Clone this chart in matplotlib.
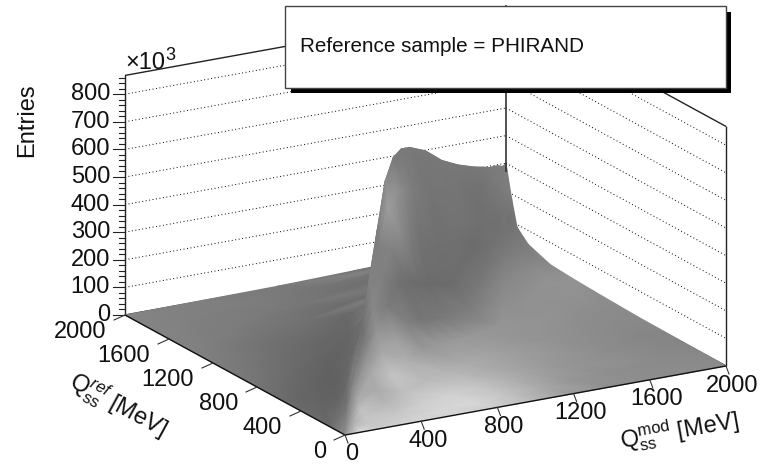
import numpy as np
import matplotlib
matplotlib.use("Agg")
import matplotlib.pyplot as plt
from matplotlib.patches import Rectangle

plt.rcParams['font.family'] = ['Liberation Sans', 'DejaVu Sans']
plt.rcParams['mathtext.fontset'] = 'custom'
plt.rcParams['mathtext.rm'] = 'Liberation Sans'
plt.rcParams['mathtext.it'] = 'Liberation Sans:italic'

# Heights (x10^3 entries). The surface looks mirror symmetric around
# the diagonal, so rows run along the diagonal (MeV) and columns go out to the square's edge.
diagonal_pos = [0, 50, 100, 200, 300, 400, 500, 600, 700, 800, 1000, 1200, 1400, 1600, 1700, 1800, 1900, 1950, 1975, 2000]
edge_frac = [0, 0.015, 0.04, 0.08, 0.15, 0.25, 0.4, 0.6, 0.8, 1.0]
entries = [
    [0, 0, 0, 0, 0, 0, 0, 0, 0, 0],
    [60, 59, 56, 50, 40, 28, 16, 7, 2, 0],
    [145, 141, 130, 113, 87, 61, 35, 15, 4, 0],
    [310, 295, 264, 217, 155, 102, 56, 25, 8, 0],
    [460, 423, 359, 285, 193, 124, 64, 28, 9, 0],
    [605, 545, 436, 333, 224, 139, 73, 30, 9, 0],
    [750, 652, 510, 375, 240, 150, 75, 30, 9, 0],
    [800, 680, 520, 360, 224, 136, 72, 28, 8, 0],
    [797, 650, 470, 318, 192, 118, 61, 23, 7, 0],
    [768, 614, 422, 276, 161, 100, 50, 19, 6, 0],
    [687, 536, 343, 206, 124, 76, 34, 14, 4, 0],
    [584, 467, 321, 204, 128, 76, 35, 15, 6, 2],
    [499, 414, 299, 210, 130, 75, 40, 20, 10, 4],
    [423, 368, 296, 233, 152, 93, 63, 38, 21, 10],
    [388, 345, 290, 232, 160, 105, 70, 46, 26, 14],
    [353, 325, 282, 229, 166, 116, 80, 52, 32, 20],
    [325, 309, 286, 260, 215, 169, 125, 92, 68, 50],
    [305, 296, 284, 265, 238, 201, 159, 128, 104, 90],
    [300, 296, 290, 280, 265, 248, 228, 212, 198, 185],
    [297, 297, 297, 297, 297, 297, 297, 297, 297, 297],
]

z_ticks = [0, 100, 200, 300, 400, 500, 600, 700, 800]
xy_ticks = [0, 400, 800, 1200, 1600, 2000]
z_top = 868

# Grey level of the lit surface as seen in the picture, by pixel position
grey_cols = [120, 180, 240, 300, 330, 345, 360, 375, 390, 420, 450, 480, 510, 540, 570, 600, 630, 660, 690, 730]
grey_rows = [160, 190, 220, 250, 280, 310, 340, 370, 400, 430]
grey_map = [
    [.50, .50, .50, .50, .50, .50, .50, .48, .48, .47, .47, .48, .50, .50, .50, .50, .50, .50, .50, .50],
    [.50, .50, .50, .50, .50, .50, .50, .50, .60, .45, .46, .44, .50, .50, .50, .50, .50, .50, .50, .50],
    [.50, .50, .50, .50, .50, .50, .48, .45, .68, .46, .46, .44, .44, .50, .50, .50, .50, .50, .50, .50],
    [.50, .50, .50, .48, .47, .46, .45, .50, .50, .44, .43, .42, .48, .50, .52, .52, .52, .52, .52, .52],
    [.50, .50, .50, .47, .46, .45, .44, .55, .45, .42, .42, .46, .55, .57, .58, .56, .55, .55, .55, .55],
    [.52, .50, .50, .47, .44, .42, .40, .55, .47, .42, .44, .52, .58, .57, .56, .55, .54, .54, .54, .54],
    [.52, .52, .47, .42, .40, .39, .42, .58, .65, .55, .60, .62, .60, .58, .55, .55, .53, .52, .52, .52],
    [.52, .52, .48, .41, .38, .38, .60, .68, .78, .68, .70, .68, .65, .62, .58, .56, .55, .55, .55, .55],
    [.52, .52, .48, .40, .38, .40, .72, .65, .72, .80, .85, .85, .78, .70, .60, .56, .55, .55, .55, .55],
    [.52, .52, .48, .45, .42, .55, .85, .80, .82, .85, .85, .80, .75, .65, .60, .56, .55, .55, .55, .55],
]


def project(x, y, z):
    """
    Parallel projection of the ROOT style box into figure pixels
    :return: pixel x, pixel y
    """
    x = np.asarray(x, dtype=float) / 2000
    y = np.asarray(y, dtype=float) / 2000
    z = np.asarray(z, dtype=float)
    return 345 + 381 * x - 220 * y, 435 - 69 * x - 120 * y - 0.276 * z


def build_mesh():
    # mirror the columns so the mesh covers both sides of the diagonal
    f = np.array(edge_frac)
    f = np.concatenate((-f[:0:-1], f))
    s = np.array(diagonal_pos, dtype=float)
    half = np.array(entries, dtype=float)
    z = np.hstack((half[:, :0:-1], half))
    ss, ff = np.meshgrid(s, f, indexing='ij')
    d = ff * 2 * np.minimum(ss, 2000 - ss)
    return ss + d / 2, ss - d / 2, z


def vertex_grey(px, py):
    # look the grey level up in the table for every mesh vertex
    by_row = np.array([np.interp(px, grey_cols, row) for row in grey_map])
    out = np.empty_like(px)
    for k in range(len(px)):
        out[k] = np.interp(py[k], grey_rows, by_row[:, k])
    return out


def draw_surface(ax):
    x, y, z = build_mesh()
    nrow, ncol = x.shape
    idx = np.arange(nrow * ncol).reshape(nrow, ncol)
    # painter's order: far rows first, inside a row the side away from the viewer first
    tris = []
    for i in range(nrow - 2, -1, -1):
        for j in range(ncol - 1):
            tris.append([idx[i, j], idx[i + 1, j], idx[i + 1, j + 1]])
            tris.append([idx[i, j], idx[i + 1, j + 1], idx[i, j + 1]])
    px, py = project(x.ravel(), y.ravel(), z.ravel())
    ax.tripcolor(px, py, np.array(tris), vertex_grey(px, py), shading='gouraud',
                 cmap='gray', vmin=0, vmax=1, zorder=3)


def draw_frame(ax):
    dots = dict(color='black', lw=0.7, ls=(0, (1, 2.6)), zorder=1)
    for val in z_ticks[1:]:
        ax.plot(*project([0, 2000], [2000, 2000], [val, val]), **dots)
        ax.plot(*project([2000, 2000], [2000, 0], [val, val]), **dots)

    solid = dict(color='#222222', lw=1.0, zorder=2, solid_capstyle='butt', solid_joinstyle='bevel')
    ax.plot(*project([0, 0], [2000, 2000], [0, z_top]), **solid)
    ax.plot(*project([2000, 2000], [0, 0], [0, z_top]), **solid)
    ax.plot(*project([2000, 2000], [2000, 2000], [272, z_top]), color='#333333', lw=1.2, zorder=4)
    ax.plot(*project([0, 2000, 2000], [2000, 2000, 0], [z_top, z_top, z_top]), **solid)
    ax.plot(*project([0, 2000], [2000, 2000], [0, 0]), **solid)
    ax.plot(*project([2000, 2000], [2000, 0], [0, 0]), **solid)

    # floor edges and ticks on top of the surface
    front = dict(color='#111111', lw=1.0, zorder=4, solid_capstyle='butt')
    ax.plot(*project([0, 2000], [0, 0], [0, 0]), **front)
    ax.plot(*project([0, 0], [0, 2000], [0, 0]), **front)
    text = dict(fontsize=17, color='#111111', zorder=6)
    for val in xy_ticks:
        px, py = project(val, 0, 0)
        ax.plot([px, px + 3], [py, py + 8], color='#333333', lw=0.8, zorder=4)
        ax.text(px + 6.5, py + 19.5, str(val), ha='center', va='center', **text)
        px, py = project(0, val, 0)
        ax.plot([px, px - 11], [py, py + 5], color='#333333', lw=0.8, zorder=4)
        ax.text(px - 19, py + 17, str(val), ha='right', va='center', **text)

    # z axis on the left wall
    for val in range(0, z_top + 1, 20):
        px, py = project(0, 2000, val)
        size = 12 if val % 100 == 0 else 6
        ax.plot([px - size, px], [py, py], color='#222222', lw=0.8, zorder=2)
    for val in z_ticks:
        px, py = project(0, 2000, val)
        ax.text(px - 15, py, str(val), ha='right', va='center', **text)


def draw_labels(ax):
    text = dict(fontsize=17, color='#111111', ha='center', va='center', zorder=6)
    ax.text(27, 120, "Entries", rotation=90, **text)
    ax.text(145, 63, "\u00d710", **text)
    ax.text(170.5, 55, "3", fontsize=13, color='#111111', ha='center', va='center', zorder=6)
    ax.text(118, 406, r"Q$_{\mathrm{ss}}^{\mathit{ref}}$ [MeV]", rotation=-28.6, rotation_mode='anchor', **text)
    ax.text(679, 431, r"Q$_{\mathrm{ss}}^{\mathrm{mod}}$ [MeV]", rotation=10, rotation_mode='anchor', **text)

    # statistics style box with its shadow
    ax.add_patch(Rectangle((291, 12), 440, 81, facecolor='black', edgecolor='none', zorder=7))
    ax.add_patch(Rectangle((284.5, 6), 441.5, 81.5, facecolor='white', edgecolor='#444444', lw=1.0, zorder=8))
    ax.text(300.5, 46.5, "Reference sample = PHIRAND", fontsize=14.9, color='#111111',
            ha='left', va='center', zorder=9)


fig = plt.figure(figsize=(7.62, 4.66), dpi=100)
ax = fig.add_axes([0, 0, 1, 1])
ax.set_xlim(0, 762)
ax.set_ylim(466, 0)
ax.axis('off')

draw_frame(ax)
draw_surface(ax)
draw_labels(ax)

fig.savefig("out.png", dpi=100)
